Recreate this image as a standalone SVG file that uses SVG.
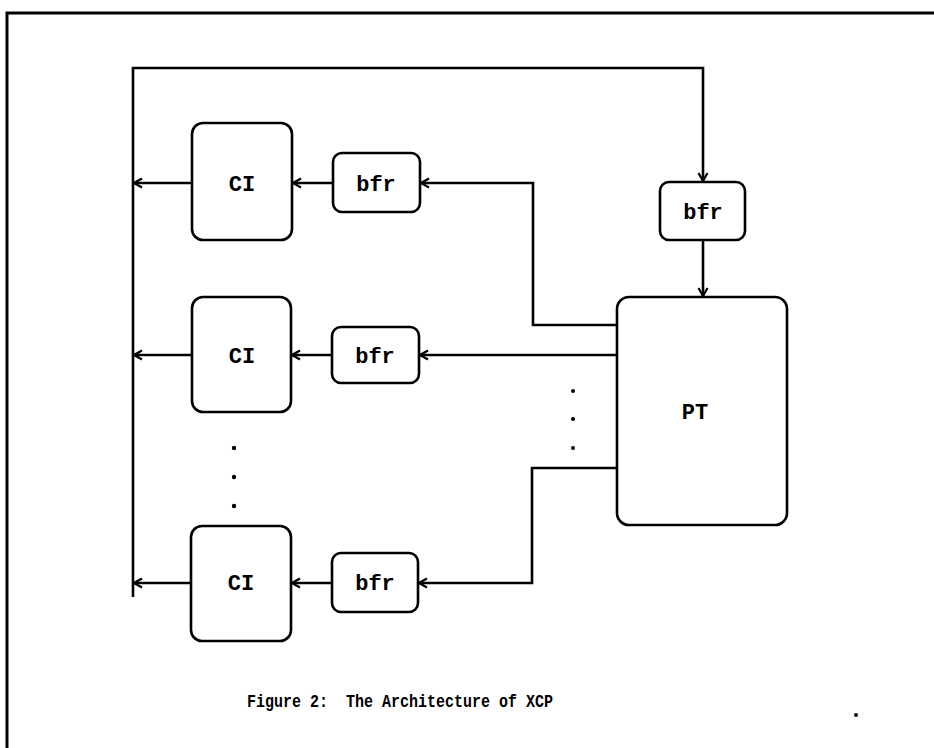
<svg xmlns="http://www.w3.org/2000/svg" width="934" height="748" viewBox="0 0 934 748">
<style>
.box{fill:none;stroke:#000;stroke-width:2.6}
.ln{fill:none;stroke:#000;stroke-width:2.6}
.lbl{font-family:"Liberation Mono","DejaVu Sans Mono",monospace;font-weight:bold;font-size:22px;text-anchor:middle;fill:#000}
.cap{font-family:"Liberation Mono","DejaVu Sans Mono",monospace;font-weight:bold;font-size:18px;text-anchor:middle;fill:#000}
.dot{fill:#000}
</style>
<defs>
<marker id="arr" markerWidth="12" markerHeight="12" refX="11" refY="6" orient="auto" markerUnits="userSpaceOnUse" viewBox="0 0 12 12">
<path d="M3,1.5 L11,6 L3,10.5" fill="none" stroke="#000" stroke-width="2.2"/>
</marker>
</defs>
<rect x="0" y="0" width="934" height="748" fill="#fff"/>
<g id="frame">
<path class="ln" d="M7,748 V13 H934" style="stroke-width:3"/>
</g>
<g id="connectors">
<path class="ln" d="M133,597 V68 H703 V181" marker-end="url(#arr)"/>
<path class="ln" d="M703,240 V296" marker-end="url(#arr)"/>
<path class="ln" d="M617,325 H533 V183 H421" marker-end="url(#arr)"/>
<path class="ln" d="M617,355 H420" marker-end="url(#arr)"/>
<path class="ln" d="M617,468 H532 V583 H419" marker-end="url(#arr)"/>
<path class="ln" d="M333,183 H293" marker-end="url(#arr)"/>
<path class="ln" d="M332,355 H292" marker-end="url(#arr)"/>
<path class="ln" d="M332,583 H292" marker-end="url(#arr)"/>
<path class="ln" d="M192,183 H134" marker-end="url(#arr)"/>
<path class="ln" d="M192,355 H134" marker-end="url(#arr)"/>
<path class="ln" d="M191,583 H134" marker-end="url(#arr)"/>
</g>
<g id="ci1"><rect class="box" x="192" y="123" width="100" height="117" rx="11"/><text class="lbl" x="242" y="191">CI</text></g>
<g id="ci2"><rect class="box" x="192" y="297" width="99" height="115" rx="11"/><text class="lbl" x="242" y="363">CI</text></g>
<g id="ci3"><rect class="box" x="191" y="526" width="100" height="115" rx="11"/><text class="lbl" x="241" y="590">CI</text></g>
<g id="bfr1"><rect class="box" x="333" y="153" width="87" height="59" rx="9"/><text class="lbl" x="376" y="191">bfr</text></g>
<g id="bfr2"><rect class="box" x="332" y="327" width="87" height="56" rx="9"/><text class="lbl" x="375" y="363">bfr</text></g>
<g id="bfr3"><rect class="box" x="332" y="553" width="86" height="59" rx="9"/><text class="lbl" x="375" y="590">bfr</text></g>
<g id="bfr0"><rect class="box" x="660" y="182" width="85" height="58" rx="9"/><text class="lbl" x="703" y="219">bfr</text></g>
<g id="pt"><rect class="box" x="617" y="297" width="170" height="228" rx="12"/><text class="lbl" x="695" y="419">PT</text></g>
<g id="dots">
<circle class="dot" cx="234" cy="448" r="2.2"/>
<circle class="dot" cx="234" cy="477" r="2.2"/>
<circle class="dot" cx="234" cy="506" r="2.2"/>
<circle class="dot" cx="573" cy="391" r="2"/>
<circle class="dot" cx="573" cy="419" r="2"/>
<circle class="dot" cx="573" cy="448" r="2"/>
<circle class="dot" cx="856" cy="715" r="2"/>
</g>
<text class="cap" x="400" y="707" textLength="306" lengthAdjust="spacingAndGlyphs" xml:space="preserve">Figure 2:  The Architecture of XCP</text>
</svg>
